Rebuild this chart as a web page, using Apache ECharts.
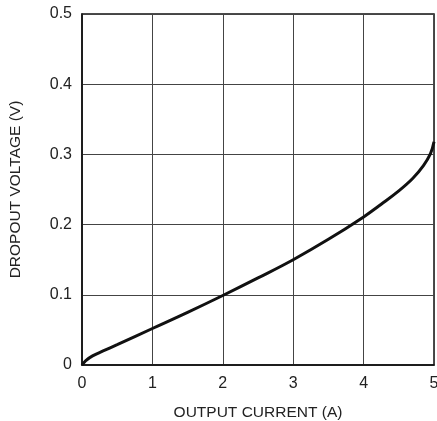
<!DOCTYPE html>
<html>
<head>
<meta charset="utf-8">
<script src="https://cdn.jsdelivr.net/npm/echarts@6/dist/echarts.min.js"></script>
<style>
  html, body { margin: 0; padding: 0; background: #fff; }
  #chart { width: 437px; height: 421px; }
</style>
</head>
<body>
<div id="chart"></div>
<script>
// output current (A) vs dropout voltage (V)
const currentA = [0, 0.05, 0.15, 0.3, 0.5, 1, 1.5, 2, 2.5, 3, 3.5, 4, 4.25, 4.5, 4.7, 4.85, 4.95, 5]
const dropoutV = [0, 0.006, 0.013, 0.020, 0.029, 0.052, 0.075, 0.099, 0.124, 0.150, 0.179, 0.211, 0.229, 0.248, 0.266, 0.284, 0.301, 0.318]
const xTicks = [0, 1, 2, 3, 4, 5]
const yTicks = [0, 0.1, 0.2, 0.3, 0.4, 0.5]

const font = '"Liberation Sans", Arial, sans-serif'
const chart = echarts.init(document.getElementById('chart'))

const option = {
  backgroundColor: '#fff',
  animation: false,
  grid: {
    left: 82, top: 14, right: 3, bottom: 56,
    outerBoundsMode: 'none',
    show: true, borderColor: '#111', borderWidth: 1.5
  },
  xAxis: {
    type: 'value',
    min: xTicks[0],
    max: xTicks[xTicks.length - 1],
    interval: 1,
    name: 'OUTPUT CURRENT (A)',
    nameLocation: 'middle',
    nameGap: 40,
    nameTextStyle: {color: '#222', fontSize: 15.5, fontFamily: font},
    axisLine: {show: true, lineStyle: {color: '#111', width: 1.5}},
    axisTick: {show: false},
    axisLabel: {color: '#222', fontSize: 16, fontFamily: font, margin: 11},
    splitLine: {show: true, lineStyle: {color: '#444', width: 1}}
  },
  yAxis: {
    type: 'value',
    min: yTicks[0],
    max: yTicks[yTicks.length - 1],
    interval: 0.1,
    name: 'DROPOUT VOLTAGE (V)',
    nameLocation: 'middle',
    nameGap: 58,
    nameTextStyle: {color: '#222', fontSize: 15.5, fontFamily: font},
    axisLine: {show: true, lineStyle: {color: '#111', width: 1.5}},
    axisTick: {show: false},
    axisLabel: {color: '#222', fontSize: 16, fontFamily: font, margin: 10,
      formatter: v => v === 0 ? '0' : v.toFixed(1)},
    splitLine: {show: true, lineStyle: {color: '#444', width: 1}}
  },
  series: [{
    type: 'line',
    smooth: 0.4,
    symbol: 'none',
    lineStyle: {color: '#111', width: 3},
    data: currentA.map((x, i) => [x, dropoutV[i]])
  }]
}
chart.setOption(option)
</script>
</body>
</html>
